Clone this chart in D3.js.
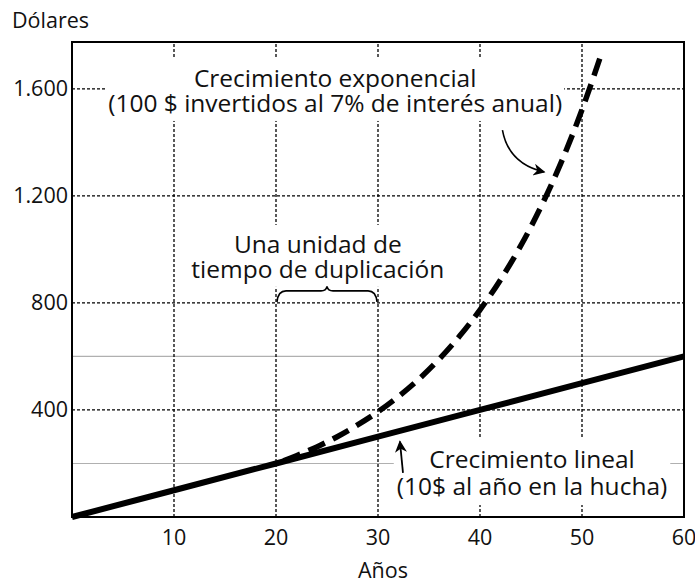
<!DOCTYPE html>
<html>
<head>
<meta charset="utf-8">
<script src="https://cdn.jsdelivr.net/npm/d3@7"></script>
<style>
  body { margin: 0; background: #fff; }
  svg text { font-family: "Open Sans", sans-serif; fill: #111; }
</style>
</head>
<body>
<div id="chartDiv"></div>
<script>
// values
var years = [0, 10, 20, 30, 40, 50, 60];
var linearValues = [0, 100, 200, 300, 400, 500, 600];

var expYears = [20, 22, 24, 26, 28, 30, 32, 34, 36, 38, 40, 42, 44, 46, 48, 50, 52];
var expValues = [200, 229, 262, 300, 344, 393, 450, 515, 590, 676, 774, 886, 1014, 1161, 1329, 1522, 1742];

var xTicks = [10, 20, 30, 40, 50, 60];
var yTicks = [400, 800, 1200, 1600];
var yTickLabels = ["400", "800", "1.200", "1.600"];
var lightLines = [200, 600];

var width = 695, height = 584;
var margin = {top: 42, right: 11, bottom: 67, left: 72};

var x = d3.scaleLinear().domain([0, 60]).range([margin.left, width - margin.right]);
var y = d3.scaleLinear().domain([0, 1775]).range([height - margin.bottom, margin.top]);

var svg = d3.select('#chartDiv').append('svg')
    .attr('width', width)
    .attr('height', height);

var defs = svg.append('defs');
defs.append('marker')
    .attr('id', 'arrowHead')
    .attr('viewBox', '0 0 10 10')
    .attr('refX', 9).attr('refY', 5)
    .attr('markerWidth', 15).attr('markerHeight', 12)
    .attr('markerUnits', 'userSpaceOnUse')
    .attr('orient', 'auto')
    .append('path')
    .attr('d', 'M0,0 L10,5 L0,10 L3,5 Z')
    .attr('fill', '#000');

// light reference lines
svg.selectAll('.lightLine')
    .data(lightLines)
    .enter().append('line')
    .attr('class', 'lightLine')
    .attr('x1', x(0)).attr('x2', x(60))
    .attr('y1', function(d) { return y(d); })
    .attr('y2', function(d) { return y(d); })
    .attr('stroke', '#b0b0b0')
    .attr('stroke-width', 1.2);

// dotted grid
svg.selectAll('.hGrid')
    .data(yTicks)
    .enter().append('line')
    .attr('class', 'hGrid')
    .attr('x1', x(0)).attr('x2', x(60))
    .attr('y1', function(d) { return y(d); })
    .attr('y2', function(d) { return y(d); })
    .attr('stroke', '#000')
    .attr('stroke-width', 1.3)
    .attr('stroke-dasharray', '3,2');

svg.selectAll('.vGrid')
    .data(xTicks.slice(0, 5))
    .enter().append('line')
    .attr('class', 'vGrid')
    .attr('y1', y(0)).attr('y2', y(1775))
    .attr('x1', function(d) { return x(d); })
    .attr('x2', function(d) { return x(d); })
    .attr('stroke', '#000')
    .attr('stroke-width', 1.3)
    .attr('stroke-dasharray', '3,2');

// annotation text, with white boxes behind so grid breaks round it
function addNote(cx, cy, lines, gap, pad) {
    var g = svg.append('g');
    var box = g.append('rect').attr('fill', '#fff');
    var t = g.append('text')
        .attr('text-anchor', 'middle')
        .style('font-size', '24.5px');
    lines.forEach(function(s, i) {
        t.append('tspan')
            .attr('x', cx)
            .attr('y', cy + i * gap)
            .text(s);
    });
    var bb = t.node().getBBox();
    box.attr('x', bb.x - pad[0])
        .attr('y', bb.y - pad[1])
        .attr('width', bb.width + pad[0] * 2)
        .attr('height', bb.height + pad[1] * 2);
    return g;
}

addNote(x(25.8), y(1607), ["Crecimiento exponencial", "(100 $ invertidos al 7% de interés anual)"], 25, [2, 2]);
addNote(x(24.1), y(987), ["Una unidad de", "tiempo de duplicación"], 25, [2, 2]);
addNote(x(45.1), y(183), ["Crecimiento lineal", "(10$ al año en la hucha)"], 27, [3, 3]);

// brace over the doubling interval
var b0 = x(20), b1 = x(30), bm = (b0 + b1) / 2;
var by = y(800), bt = y(845), bp = y(862);
svg.append('path')
    .attr('d', 'M' + (b0 + 1) + ',' + (by - 1) +
        ' Q' + (b0 + 2) + ',' + bt + ' ' + (b0 + 10) + ',' + bt +
        ' L' + (bm - 6) + ',' + bt +
        ' Q' + (bm - 1) + ',' + bt + ' ' + bm + ',' + bp +
        ' Q' + (bm + 1) + ',' + bt + ' ' + (bm + 6) + ',' + bt +
        ' L' + (b1 - 10) + ',' + bt +
        ' Q' + (b1 - 2) + ',' + bt + ' ' + (b1 - 1) + ',' + (by - 1))
    .attr('fill', 'none')
    .attr('stroke', '#000')
    .attr('stroke-width', 1.6);

// lines
var line = d3.line()
    .x(function(d) { return x(d[0]); })
    .y(function(d) { return y(d[1]); });

svg.append('path')
    .datum(d3.zip(expYears, expValues))
    .attr('d', line.curve(d3.curveMonotoneX))
    .attr('fill', 'none')
    .attr('stroke', '#000')
    .attr('stroke-width', 5.5)
    .attr('stroke-dasharray', '18,9')
    .attr('stroke-dashoffset', -8);

svg.append('path')
    .datum(d3.zip(years, linearValues))
    .attr('d', line.curve(d3.curveLinear))
    .attr('fill', 'none')
    .attr('stroke', '#000')
    .attr('stroke-width', 6);

// arrows
svg.append('path')
    .attr('d', 'M' + x(42.2) + ',' + y(1446) + ' Q' + x(42.8) + ',' + y(1320) + ' ' + x(46.3) + ',' + y(1289))
    .attr('fill', 'none')
    .attr('stroke', '#000')
    .attr('stroke-width', 1.6)
    .attr('marker-end', 'url(#arrowHead)');

svg.append('path')
    .attr('d', 'M' + x(32.45) + ',' + y(165) + ' L' + x(32.15) + ',' + y(282))
    .attr('fill', 'none')
    .attr('stroke', '#000')
    .attr('stroke-width', 1.8)
    .attr('marker-end', 'url(#arrowHead)');

// frame
svg.append('rect')
    .attr('x', x(0)).attr('y', y(1775))
    .attr('width', x(60) - x(0))
    .attr('height', y(0) - y(1775))
    .attr('fill', 'none')
    .attr('stroke', '#000')
    .attr('stroke-width', 2);

// tick labels
svg.selectAll('.yLabel')
    .data(yTicks)
    .enter().append('text')
    .attr('class', 'yLabel')
    .attr('x', x(0) - 4)
    .attr('y', function(d) { return y(d); })
    .attr('dy', '0.35em')
    .attr('text-anchor', 'end')
    .style('font-size', '21.5px')
    .text(function(d, i) { return yTickLabels[i]; });

svg.selectAll('.xLabel')
    .data(xTicks)
    .enter().append('text')
    .attr('class', 'xLabel')
    .attr('x', function(d) { return x(d); })
    .attr('y', y(0) + 28)
    .attr('text-anchor', 'middle')
    .style('font-size', '21.5px')
    .text(function(d) { return d; });

svg.append('text')
    .attr('x', 12).attr('y', 28)
    .style('font-size', '21.5px')
    .text('Dólares');

svg.append('text')
    .attr('x', 383).attr('y', 578)
    .attr('text-anchor', 'middle')
    .style('font-size', '21.5px')
    .text('Años');
</script>
</body>
</html>
